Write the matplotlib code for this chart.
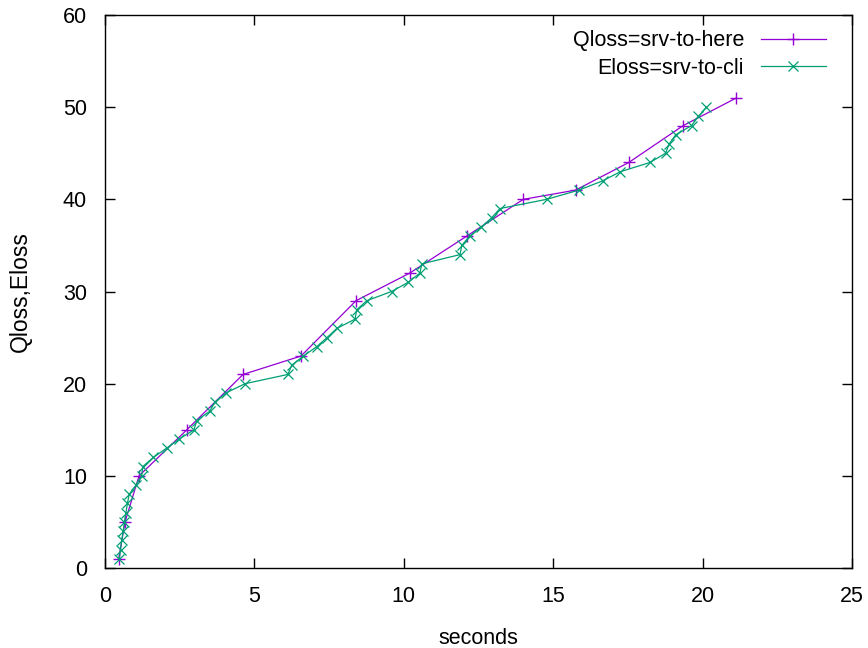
import matplotlib.pyplot as plt
import numpy as np

# Qloss (srv-to-here)
q_sec = [0.46, 0.67, 1.14, 2.74, 4.62, 6.56, 8.40, 10.20, 12.10, 14.00, 15.75, 17.53, 19.35, 21.13]
q_loss = [1, 5, 10, 15, 21, 23, 29, 32, 36, 40, 41, 44, 48, 51]

# Eloss (srv-to-cli)
e_sec = [0.48, 0.52, 0.56, 0.61, 0.65, 0.70, 0.75, 0.81, 1.04, 1.23,
         1.26, 1.62, 2.06, 2.49, 2.98, 3.07, 3.50, 3.68, 4.05, 4.69,
         6.12, 6.25, 6.64, 7.08, 7.43, 7.76, 8.37, 8.42, 8.76, 9.59,
         10.15, 10.54, 10.60, 11.88, 11.94, 12.20, 12.60, 12.94, 13.22, 14.78,
         15.86, 16.65, 17.25, 18.24, 18.76, 18.88, 19.10, 19.63, 19.86, 20.13]
e_loss = list(range(1, 51))

plt.rcParams['font.family'] = ['Liberation Sans', 'DejaVu Sans']

fig = plt.figure(figsize=(8.68, 6.48), dpi=100)
ax = fig.add_axes([105/868, 1-568/648, 747/868, 553/648])

ax.plot(q_sec, q_loss, color='#9400D3', lw=0.9, marker='+', ms=8, mew=1.0,
        label='Qloss=srv-to-here')
ax.plot(e_sec, e_loss, color='#009E73', lw=0.9, marker='x', ms=7, mew=0.9,
        label='Eloss=srv-to-cli')

ax.set_xlim(0, 25)
ax.set_ylim(0, 60)
ax.set_xticks(np.arange(0, 26, 5))
ax.set_yticks(np.arange(0, 61, 10))
ax.tick_params(direction='in', top=True, right=True, length=7, width=1,
               labelsize=15.5)
ax.tick_params(axis='x', pad=13)
ax.tick_params(axis='y', pad=13)
for s in ax.spines.values():
    s.set_linewidth(1)

ax.set_xlabel('seconds', fontsize=15.5, labelpad=15)
ax.set_ylabel('Qloss,Eloss', fontsize=16.5, labelpad=22)

ax.legend(loc='upper right', frameon=False, markerfirst=False, fontsize=15.5,
          handlelength=3.0, borderaxespad=0.3, labelspacing=0.3,
          bbox_to_anchor=(0.985, 1.0))

fig.savefig('out.png', dpi=100)
